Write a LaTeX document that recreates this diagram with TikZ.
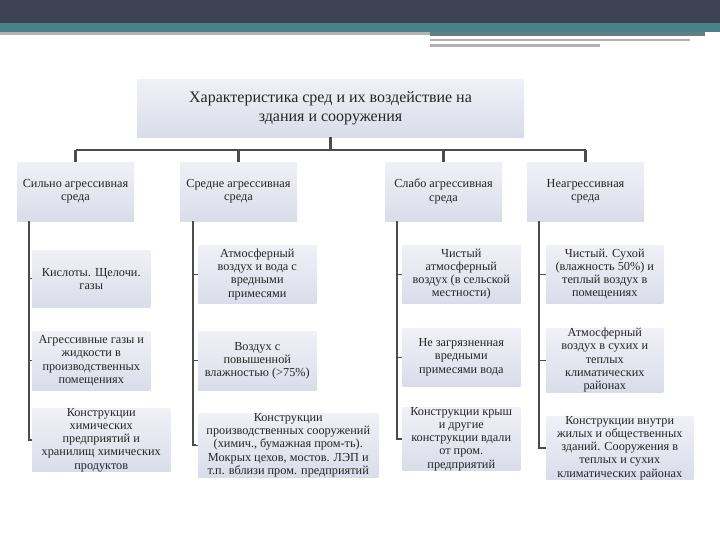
\documentclass[tikz,border=0pt]{standalone}
\usepackage{fontspec}
\setmainfont{Liberation Serif}
\begin{document}
\begin{tikzpicture}[x=0.75pt,y=-0.75pt,
  bx/.style={top color=white!60!boxc, bottom color=boxc, draw=none, inner sep=0pt, align=center,
    font=\fontsize{9.2}{9.9}\selectfont, text=black!85},
  ln/.style={draw=black!70, line width=1.6pt},
  tk/.style={draw=black!70, line width=1pt}]
\definecolor{boxc}{RGB}{218,220,234}
\definecolor{dk}{RGB}{62,66,85}
\definecolor{tl}{RGB}{74,128,136}
\useasboundingbox (0,0) rectangle (720,540);
\fill[white] (0,0) rectangle (720,540);
\fill[dk] (0,0) rectangle (720,23);
\fill[tl] (0,23) rectangle (720,32);
\fill[black!30] (0,32) rectangle (430,35);
\fill[tl!60!gray] (430,32) rectangle (705,36);
\fill[black!30] (430,39) rectangle (690,41);
\fill[black!30] (430,44) rectangle (600,47);
% root
\node[bx, minimum width=387*0.75pt, minimum height=58*0.75pt, font=\fontsize{12}{14}\selectfont] (root) at (330.5,108)
  {Характеристика сред и их воздействие на\\здания и сооружения};
% level 1
\foreach \n/\cx/\t in {a/75.5/{Сильно агрессивная\\среда}, b/238.5/{Средне агрессивная\\среда}, c/443.5/{Слабо агрессивная\\среда}, d/585.5/{Неагрессивная\\среда}}
  \node[bx, minimum width=117*0.75pt, minimum height=59*0.75pt] (\n) at (\cx,191.5) {\t};
\draw[ln] (root.south) -- (330.5,150) coordinate (h0);
\draw[ln] (75.5,150) coordinate (hl) -- (585.5,150) coordinate (hr);
\foreach \n in {a,b,c,d} \draw[ln] (\n.north |- h0) -- (\n.north);
% children
\newcommand\kid[6]{\node[bx, minimum width=#4*0.75pt, minimum height=#5*0.75pt, anchor=north west] (#1) at (#2,#3) {#6};}
\kid{a1}{32}{250}{118}{57}{Кислоты. Щелочи.\\газы}
\kid{a2}{32}{331}{118}{59}{Агрессивные газы и\\жидкости в\\производственных\\помещениях}
\kid{a3}{32}{408}{138}{57}{Конструкции\\химических\\предприятий и\\хранилищ химических\\продуктов}
\kid{b1}{198}{245}{118}{58}{Атмосферный\\воздух и вода с\\вредными\\примесями}
\kid{b2}{198}{331}{118}{59}{Воздух с\\повышенной\\влажностью (>75\%)}
\kid{b3}{198}{413}{180}{64}{Конструкции\\производственных сооружений\\(химич., бумажная пром-ть).\\Мокрых цехов, мостов. ЛЭП и\\т.п. вблизи пром. предприятий}
\kid{c1}{402}{245}{118}{58}{Чистый\\атмосферный\\воздух (в сельской\\местности)}
\kid{c2}{402}{328}{118}{58}{Не загрязненная\\вредными\\примесями вода}
\kid{c3}{402}{407}{118}{63}{Конструкции крыш\\и другие\\конструкции вдали\\от пром.\\предприятий}
\kid{d1}{546}{245}{117}{58}{Чистый. Сухой\\(влажность 50\%) и\\теплый воздух в\\помещениях}
\kid{d2}{546}{328}{117}{58}{Атмосферный\\воздух в сухих и\\теплых\\климатических\\районах}
\kid{d3}{546}{416}{147}{62}{Конструкции внутри\\жилых и общественных\\зданий. Сооружения в\\теплых и сухих\\климатических районах}
\foreach \p/\x in {a/29,b/193,c/397,d/539}{
  \draw[ln] (\x,221) -- (\x,0 |- \p3.west) -- ++(3,0);
  \draw[tk] (\x,0 |- \p1.west) -- (\p1.west);
  \draw[tk] (\x,0 |- \p2.west) -- (\p2.west);
  \draw[tk] (\x,0 |- \p3.west) -- (\p3.west);
}
\end{tikzpicture}
\end{document}
